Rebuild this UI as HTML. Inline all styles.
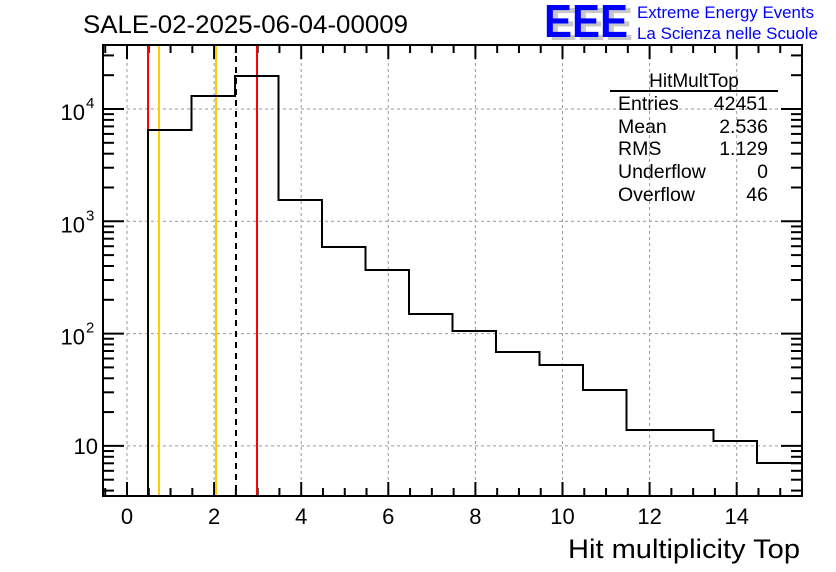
<!DOCTYPE html>
<html><head><meta charset="utf-8"><style>
html,body{margin:0;padding:0;background:#fff;}
svg{display:block;font-family:"Liberation Sans",Arial,sans-serif;}
</style></head><body>
<svg id="s" width="836" height="572" viewBox="0 0 836 572" xmlns="http://www.w3.org/2000/svg">
<rect width="836" height="572" fill="#fff"/>
<g id="grid" stroke="#999" stroke-width="1" stroke-dasharray="3,3"></g>
<g id="ticks" stroke="#000" stroke-width="2"></g>
<line x1="148" y1="45" x2="148" y2="496" stroke="#ff0000" stroke-width="2"/>
<line x1="257" y1="45" x2="257" y2="496" stroke="#ff0000" stroke-width="2"/>
<line x1="159" y1="45" x2="159" y2="496" stroke="#ffcc00" stroke-width="2"/>
<line x1="216" y1="45" x2="216" y2="496" stroke="#ffcc00" stroke-width="2"/>
<line x1="236" y1="45" x2="236" y2="496" stroke="#000" stroke-width="2" stroke-dasharray="6,5"/>
<path d="M148,496 V130 H191.5 V96 H235 V76 H278.5 V200 H322 V247 H365.5 V270 H409 V314 H452.5 V331 H496 V352 H539.5 V365 H583 V390 H626.5 V430 H670 V430 H713.5 V441 H757 V463 H802" fill="none" stroke="#000" stroke-width="2"/>
<rect x="103" y="45" width="699" height="451" fill="none" stroke="#000" stroke-width="2"/>
<g id="labels" font-size="22" fill="#000"></g>
<text x="83" y="33" font-size="25" textLength="325" lengthAdjust="spacingAndGlyphs">SALE-02-2025-06-04-00009</text>
<text x="800" y="558" font-size="27" text-anchor="end" textLength="232" lengthAdjust="spacingAndGlyphs">Hit multiplicity Top</text>
<text x="694" y="87" font-size="19" text-anchor="middle">HitMultTop</text>
<line x1="610" y1="91" x2="778" y2="91" stroke="#000" stroke-width="2"/>
<g font-size="19.5">
<text x="618" y="110">Entries</text><text x="768" y="110" text-anchor="end">42451</text>
<text x="618" y="133">Mean</text><text x="768" y="133" text-anchor="end">2.536</text>
<text x="618" y="155">RMS</text><text x="768" y="155" text-anchor="end">1.129</text>
<text x="618" y="178">Underflow</text><text x="768" y="178" text-anchor="end">0</text>
<text x="618" y="201">Overflow</text><text x="768" y="201" text-anchor="end">46</text>
</g>
<text x="549" y="40" font-size="46" font-weight="bold" fill="#c8c8c8" textLength="84" lengthAdjust="spacingAndGlyphs">EEE</text>
<text x="544" y="37" font-size="46" font-weight="bold" fill="#0000ff" textLength="84" lengthAdjust="spacingAndGlyphs">EEE</text>
<text x="637" y="18" font-size="17" fill="#0000ff" textLength="177" lengthAdjust="spacingAndGlyphs">Extreme Energy Events</text>
<text x="637" y="39" font-size="17" fill="#0000ff" textLength="181" lengthAdjust="spacingAndGlyphs">La Scienza nelle Scuole</text>
</svg>
<script>
var NS="http://www.w3.org/2000/svg";
function el(p,t,a,txt){var e=document.createElementNS(NS,t);for(var k in a)e.setAttribute(k,a[k]);if(txt)e.textContent=txt;document.getElementById(p).appendChild(e);}
function X(v){return 127+v*43.55;}
function Y(l){return 109-(l-4)*112.3;}
for(var v=0;v<=14;v+=2) el("grid","line",{x1:X(v),y1:45,x2:X(v),y2:496});
for(var d=1;d<=4;d++) el("grid","line",{x1:103,y1:Y(d),x2:802,y2:Y(d)});
for(var v=-0.5;v<=15.5;v+=0.5){var x=X(v);if(x<104||x>801)continue;var L=(Math.abs(v%2)<1e-6)?14:8;
el("ticks","line",{x1:x,y1:496,x2:x,y2:496-L});el("ticks","line",{x1:x,y1:45,x2:x,y2:45+L});}
for(var d=0;d<=4;d++)for(var m=1;m<=9;m++){var y=Y(d+Math.log10(m));if(y<46||y>495)continue;var L=(m==1)?21:11;
el("ticks","line",{x1:103,y1:y,x2:103+L,y2:y});el("ticks","line",{x1:802,y1:y,x2:802-L,y2:y});}
for(var v=0;v<=14;v+=2) el("labels","text",{x:X(v),y:524,"text-anchor":"middle"},String(v));
el("labels","text",{x:98,y:Y(1)+8,"text-anchor":"end"},"10");
for(var d=2;d<=4;d++){el("labels","text",{x:85,y:Y(d)+11,"text-anchor":"end"},"10");el("labels","text",{x:86,y:Y(d)-1,"font-size":"15"},String(d));}
</script>
</body></html>
